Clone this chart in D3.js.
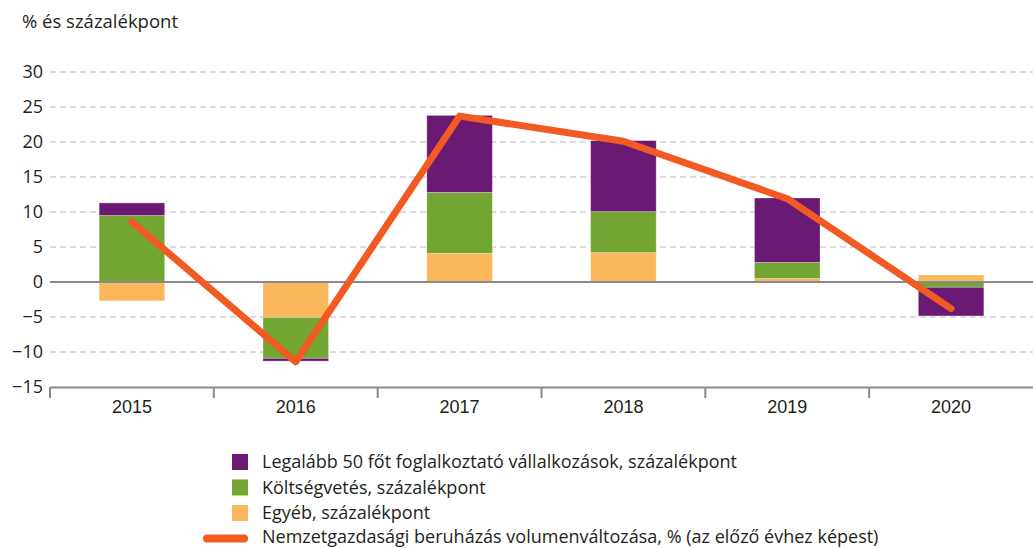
<!doctype html>
<meta charset="utf-8">
<title>Beruházás</title>
<style>
    body {
        margin: 0;
        background: white;
    }

    svg {
        display: block;
        font-family: "Open Sans", "Noto Sans", sans-serif;
    }

    text {
        fill: #231f20;
    }
</style>
<svg width=1033 height=548></svg>
<script src=https://cdnjs.cloudflare.com/ajax/libs/d3/7.8.5/d3.min.js></script>
<script>
    // data
    var years = ['2015', '2016', '2017', '2018', '2019', '2020'];
    var largeFirms = [1.8, -0.4, 11.0, 10.15, 9.2, -4.1];   // Legalább 50 főt foglalkoztató vállalkozások
    var budget = [9.5, -5.85, 8.7, 5.85, 2.3, -0.75];         // Költségvetés
    var other = [-2.7, -5.05, 4.1, 4.2, 0.5, 1.0];             // Egyéb
    var investment = [8.6, -11.4, 23.7, 20.1, 11.9, -3.8];     // Nemzetgazdasági beruházás

    var yTicks = [-15, -10, -5, 0, 5, 10, 15, 20, 25, 30];

    var seriesNames = [
        'Legalább 50 főt foglalkoztató vállalkozások, százalékpont',
        'Költségvetés, százalékpont',
        'Egyéb, százalékpont'
    ];
    var lineName = 'Nemzetgazdasági beruházás volumenváltozása, % (az előző évhez képest)';

    var colors = ['#6a1a72', '#72a532', '#fbb85b'];
    var lineColor = '#f15a22';

    var svg = d3.select('svg');
    var margin = { top: 72, right: 0, bottom: 161, left: 50 };
    var width = +svg.attr('width') - margin.left - margin.right;
    var height = +svg.attr('height') - margin.top - margin.bottom;
    var g = svg.append('g').attr('transform', 'translate(' + margin.left + ',' + margin.top + ')');

    var x = d3.scaleBand().domain(years).range([0, width]).paddingInner(0.6).paddingOuter(0.3);
    var xc = d3.scaleBand().domain(years).range([0, width]);
    var y = d3.scaleLinear().domain([-15, 30]).range([height, 0]);

    // stack order from zero outward: egyéb, költségvetés, vállalkozások
    var rows = years.map(function (yr, i) {
        return { year: yr, other: other[i], budget: budget[i], large: largeFirms[i] };
    });
    var stack = d3.stack()
        .keys(['other', 'budget', 'large'])
        .offset(d3.stackOffsetDiverging);
    var layers = stack(rows);
    var layerColor = { other: colors[2], budget: colors[1], large: colors[0] };

    // grid
    g.append('g')
        .selectAll('line')
        .data(yTicks.filter(function (d) { return d !== 0 && d !== -15; }))
        .enter()
        .append('line')
        .attr('x1', 0)
        .attr('x2', width)
        .attr('y1', function (d) { return y(d); })
        .attr('y2', function (d) { return y(d); })
        .attr('stroke', '#d0d0d0')
        .attr('stroke-width', 1.3)
        .attr('stroke-dasharray', '6,4');

    // y labels
    g.append('g')
        .selectAll('text')
        .data(yTicks)
        .enter()
        .append('text')
        .attr('x', -7)
        .attr('y', function (d) { return y(d); })
        .attr('dy', '0.35em')
        .attr('text-anchor', 'end')
        .style('font-size', '18px')
        .text(function (d) { return d < 0 ? '\u2212' + Math.abs(d) : d; });

    // bars
    g.append('g')
        .selectAll('g')
        .data(layers)
        .enter()
        .append('g')
        .attr('fill', function (d) { return layerColor[d.key]; })
        .selectAll('rect')
        .data(function (d) { return d; })
        .enter()
        .append('rect')
        .attr('x', function (d) { return x(d.data.year); })
        .attr('width', x.bandwidth())
        .attr('y', function (d) { return y(Math.max(d[0], d[1])); })
        .attr('height', function (d) { return Math.abs(y(d[0]) - y(d[1])); })
        .attr('stroke', 'rgba(255,255,255,0.35)')
        .attr('stroke-width', 0.8);

    // zero line
    g.append('line')
        .attr('x1', 0)
        .attr('x2', width)
        .attr('y1', y(0))
        .attr('y2', y(0))
        .attr('stroke', '#8a8a8c')
        .attr('stroke-width', 2);

    // bottom axis
    var xAxis = g.append('g')
        .attr('transform', 'translate(0,' + height + ')')
        .call(d3.axisBottom(xc).tickSize(0).tickPadding(13));
    xAxis.select('.domain').attr('stroke', '#8a8a8c').attr('stroke-width', 2);
    xAxis.selectAll('text').style('font-size', '18px').attr('fill', '#231f20');
    xAxis.append('g')
        .selectAll('line')
        .data(d3.range(years.length))
        .enter()
        .append('line')
        .attr('x1', function (d) { return xc.step() * d; })
        .attr('x2', function (d) { return xc.step() * d; })
        .attr('y1', 0)
        .attr('y2', 11)
        .attr('stroke', '#8a8a8c')
        .attr('stroke-width', 2);

    // line
    var line = d3.line()
        .x(function (d, i) { return xc(years[i]) + xc.bandwidth() / 2; })
        .y(function (d) { return y(d); });

    g.append('path')
        .datum(investment)
        .attr('d', line)
        .attr('fill', 'none')
        .attr('stroke', lineColor)
        .attr('stroke-width', 7)
        .attr('stroke-linecap', 'round')
        .attr('stroke-linejoin', 'round');

    // title
    svg.append('text')
        .attr('x', 22)
        .attr('y', 28)
        .style('font-size', '18.5px')
        .text('% és százalékpont');

    // legend
    var legend = svg.append('g').attr('transform', 'translate(232,462)');
    var rowH = 25.5;
    seriesNames.forEach(function (name, i) {
        legend.append('rect')
            .attr('x', 0)
            .attr('y', i * rowH - 8)
            .attr('width', 16)
            .attr('height', 16)
            .attr('fill', colors[i]);
        legend.append('text')
            .attr('x', 30)
            .attr('y', i * rowH)
            .attr('dy', '0.36em')
            .style('font-size', '18px')
            .text(name);
    });
    legend.append('line')
        .attr('x1', -25)
        .attr('x2', 12)
        .attr('y1', 3 * rowH)
        .attr('y2', 3 * rowH)
        .attr('stroke', lineColor)
        .attr('stroke-width', 8)
        .attr('stroke-linecap', 'round');
    legend.append('text')
        .attr('x', 30)
        .attr('y', 3 * rowH)
        .attr('dy', '0.25em')
        .style('font-size', '18px')
        .text(lineName);
</script>
